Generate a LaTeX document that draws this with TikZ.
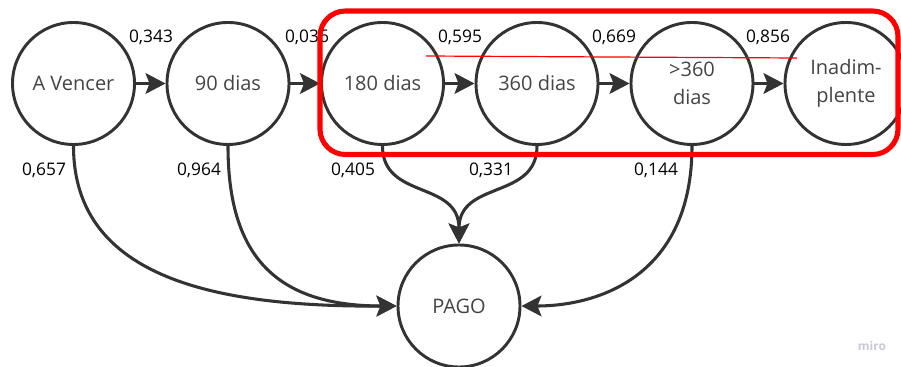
\documentclass[tikz,border=0pt]{standalone}
\usepackage{fontspec}
\setmainfont{Open Sans}
\usetikzlibrary{arrows.meta}
\definecolor{ink}{HTML}{333333}
\definecolor{txt}{HTML}{444444}
\definecolor{redbox}{HTML}{FF0000}
\definecolor{wm}{HTML}{C9C9D6}
\begin{document}
\begin{tikzpicture}[x=0.75pt,y=-0.75pt,
  state/.style={circle,draw=ink,line width=2.2pt,fill=white,minimum size=91.5pt,inner sep=0pt,text=txt,font=\fontsize{15}{21}\selectfont,align=center},
  conn/.style={draw=ink,line width=2.3pt,-{Stealth[length=15pt,width=15.5pt,inset=3pt]}},
  prob/.style={font=\fontsize{13}{15}\selectfont,text=black,inner sep=0pt}]
\useasboundingbox (0,0) rectangle (901,367);

% states
\node[state] (av)   at (73.5,83.5)  {A Vencer};
\node[state] (d90)  at (228,83.5)   {90 dias};
\node[state] (d180) at (382.5,83.5) {180 dias};
\node[state] (d360) at (537,83.5)   {360 dias};
\node[state] (d360p) at (692,83.5)  {>360\\dias};
\node[state] (inad) at (846,83.5)   {Inadim-\\plente};
\node[state] (pago) at (459,306)    {PAGO};

% horizontal transitions
\draw[conn] (av)   -- (d90);
\draw[conn] (d90)  -- (d180);
\draw[conn] (d180) -- (d360);
\draw[conn] (d360) -- (d360p);
\draw[conn] (d360p) -- (inad);

% transitions to PAGO
\draw[conn] (av.south) .. controls (73.5,280) and (220,307) .. (pago.west);
\draw[conn] (d90.south) .. controls (228,255) and (275,306) .. (pago.west);
\draw[conn] (d180.south) .. controls (382.5,200) and (459,180) .. (pago.north);
\draw[conn] (d360.south) .. controls (537,200) and (459,180) .. (pago.north);
\draw[conn] (d360p.south) .. controls (692,275) and (600,306) .. (pago.east);

% probabilities
\node[prob] (p1) at (151,37) {0,343};
\node[prob] (p2) at (307,37) {0,036};
\node[prob] (p3) at (460,37) {0,595};
\node[prob] (p4) at (614,37) {0,669};
\node[prob] (p5) at (768,37) {0,856};
\node[prob] (q1) at (44,170)  {0,657};
\node[prob] (q2) at (199,170) {0,964};
\node[prob] (q3) at (353,170) {0,405};
\node[prob] (q4) at (491,170) {0,331};
\node[prob] (q5) at (656,170) {0,144};

% red highlight
\draw[redbox,line width=3.8pt,rounded corners=19pt] (320,11) rectangle (898,154.5);
\coordinate (rl1) at (426,56);
\coordinate (rl2) at (797,58);
\draw[redbox,line width=0.9pt] (rl1) -- (rl2);

% watermark
\node[text=wm,font=\fontsize{9}{10}\selectfont\bfseries,inner sep=0pt] (miro) at (872,346) {miro};
\end{tikzpicture}
\end{document}
